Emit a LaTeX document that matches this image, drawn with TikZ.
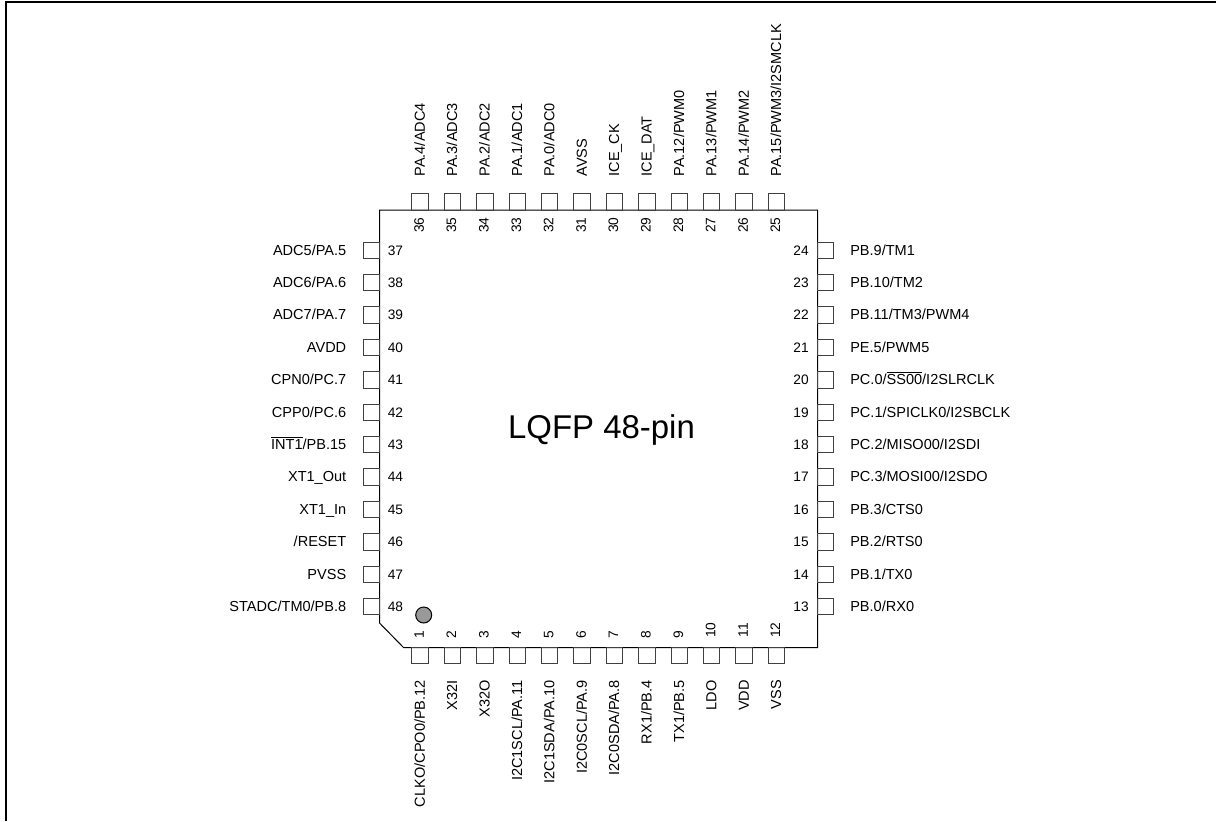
\documentclass[tikz,border=0pt]{standalone}
\usepackage{fontspec}
\setmainfont{Liberation Sans}
\usepackage{pgf,tikz}
\tikzset{
	pinbox/.style={draw=black!75,line width=0.75pt,minimum size=12.3pt,inner sep=0pt,outer sep=0pt},
	pintext/.style={font=\fontsize{10.9pt}{12pt}\selectfont,inner sep=0pt,text height=0.72em,text depth=0pt},
	numtext/.style={pintext,font=\fontsize{10.3pt}{12pt}\selectfont},
	chiptext/.style={font=\fontsize{24.7pt}{28pt}\selectfont,inner sep=0pt}
}
\begin{document}
\begin{tikzpicture}[x=7.5pt,y=7.5pt]
		\useasboundingbox (0,0) rectangle (121.6,-82.1);
		\draw [black,line width=1.5pt] (0.6,-82.1) -- (0.6,-0.2) -- (121.6,-0.2);
		% body of the package
		\draw [black,line width=0.75pt] (37.95,-21) -- (81.75,-21) -- (81.75,-64.75) -- (40.35,-64.75) -- (37.95,-62.3) -- cycle;
		\draw [black,line width=0.75pt,fill=black!40] (42.37,-61.5) circle (0.8);
		\node [chiptext] (title) at (60.15,-43) {LQFP 48-pin};
		% bottom side
		\node [pinbox] (pin1) at (42,-65.57) {};
		\node [numtext,rotate=90] (num1) at (41.9,-63.5) {1};
		\node [pintext,rotate=90,anchor=east] (lbl1) at (42,-68) {CLKO/CPO0/PB.12};
		\node [pinbox] (pin2) at (45.24,-65.57) {};
		\node [numtext,rotate=90] (num2) at (45.14,-63.5) {2};
		\node [pintext,rotate=90,anchor=east] (lbl2) at (45.24,-68) {X32I};
		\node [pinbox] (pin3) at (48.48,-65.57) {};
		\node [numtext,rotate=90] (num3) at (48.38,-63.5) {3};
		\node [pintext,rotate=90,anchor=east] (lbl3) at (48.48,-68) {X32O};
		\node [pinbox] (pin4) at (51.72,-65.57) {};
		\node [numtext,rotate=90] (num4) at (51.62,-63.5) {4};
		\node [pintext,rotate=90,anchor=east] (lbl4) at (51.72,-68) {I2C1SCL/PA.11};
		\node [pinbox] (pin5) at (54.96,-65.57) {};
		\node [numtext,rotate=90] (num5) at (54.86,-63.5) {5};
		\node [pintext,rotate=90,anchor=east] (lbl5) at (54.96,-68) {I2C1SDA/PA.10};
		\node [pinbox] (pin6) at (58.2,-65.57) {};
		\node [numtext,rotate=90] (num6) at (58.1,-63.5) {6};
		\node [pintext,rotate=90,anchor=east] (lbl6) at (58.2,-68) {I2C0SCL/PA.9};
		\node [pinbox] (pin7) at (61.44,-65.57) {};
		\node [numtext,rotate=90] (num7) at (61.34,-63.5) {7};
		\node [pintext,rotate=90,anchor=east] (lbl7) at (61.44,-68) {I2C0SDA/PA.8};
		\node [pinbox] (pin8) at (64.68,-65.57) {};
		\node [numtext,rotate=90] (num8) at (64.58,-63.5) {8};
		\node [pintext,rotate=90,anchor=east] (lbl8) at (64.68,-68) {RX1/PB.4};
		\node [pinbox] (pin9) at (67.92,-65.57) {};
		\node [numtext,rotate=90] (num9) at (67.82,-63.5) {9};
		\node [pintext,rotate=90,anchor=east] (lbl9) at (67.92,-68) {TX1/PB.5};
		\node [pinbox] (pin10) at (71.16,-65.57) {};
		\node [numtext,rotate=90] (num10) at (71.06,-63) {10};
		\node [pintext,rotate=90,anchor=east] (lbl10) at (71.16,-68) {LDO};
		\node [pinbox] (pin11) at (74.4,-65.57) {};
		\node [numtext,rotate=90] (num11) at (74.3,-63) {11};
		\node [pintext,rotate=90,anchor=east] (lbl11) at (74.4,-68) {VDD};
		\node [pinbox] (pin12) at (77.64,-65.57) {};
		\node [numtext,rotate=90] (num12) at (77.54,-63) {12};
		\node [pintext,rotate=90,anchor=east] (lbl12) at (77.64,-68) {VSS};
		% right side
		\node [pinbox] (pin13) at (82.57,-60.67) {};
		\node [numtext,anchor=east] (num13) at (80.9,-60.67) {13};
		\node [pintext,anchor=west] (lbl13) at (85,-60.67) {PB.0/RX0};
		\node [pinbox] (pin14) at (82.57,-57.43) {};
		\node [numtext,anchor=east] (num14) at (80.9,-57.43) {14};
		\node [pintext,anchor=west] (lbl14) at (85,-57.43) {PB.1/TX0};
		\node [pinbox] (pin15) at (82.57,-54.19) {};
		\node [numtext,anchor=east] (num15) at (80.9,-54.19) {15};
		\node [pintext,anchor=west] (lbl15) at (85,-54.19) {PB.2/RTS0};
		\node [pinbox] (pin16) at (82.57,-50.95) {};
		\node [numtext,anchor=east] (num16) at (80.9,-50.95) {16};
		\node [pintext,anchor=west] (lbl16) at (85,-50.95) {PB.3/CTS0};
		\node [pinbox] (pin17) at (82.57,-47.71) {};
		\node [numtext,anchor=east] (num17) at (80.9,-47.71) {17};
		\node [pintext,anchor=west] (lbl17) at (85,-47.71) {PC.3/MOSI00/I2SDO};
		\node [pinbox] (pin18) at (82.57,-44.47) {};
		\node [numtext,anchor=east] (num18) at (80.9,-44.47) {18};
		\node [pintext,anchor=west] (lbl18) at (85,-44.47) {PC.2/MISO00/I2SDI};
		\node [pinbox] (pin19) at (82.57,-41.23) {};
		\node [numtext,anchor=east] (num19) at (80.9,-41.23) {19};
		\node [pintext,anchor=west] (lbl19) at (85,-41.23) {PC.1/SPICLK0/I2SBCLK};
		\node [pinbox] (pin20) at (82.57,-37.99) {};
		\node [numtext,anchor=east] (num20) at (80.9,-37.99) {20};
		\node [pintext,anchor=west] (lbl20) at (85,-37.99) {PC.0/$\overline{\mbox{SS00}}$/I2SLRCLK};
		\node [pinbox] (pin21) at (82.57,-34.75) {};
		\node [numtext,anchor=east] (num21) at (80.9,-34.75) {21};
		\node [pintext,anchor=west] (lbl21) at (85,-34.75) {PE.5/PWM5};
		\node [pinbox] (pin22) at (82.57,-31.51) {};
		\node [numtext,anchor=east] (num22) at (80.9,-31.51) {22};
		\node [pintext,anchor=west] (lbl22) at (85,-31.51) {PB.11/TM3/PWM4};
		\node [pinbox] (pin23) at (82.57,-28.27) {};
		\node [numtext,anchor=east] (num23) at (80.9,-28.27) {23};
		\node [pintext,anchor=west] (lbl23) at (85,-28.27) {PB.10/TM2};
		\node [pinbox] (pin24) at (82.57,-25.03) {};
		\node [numtext,anchor=east] (num24) at (80.9,-25.03) {24};
		\node [pintext,anchor=west] (lbl24) at (85,-25.03) {PB.9/TM1};
		% top side
		\node [pinbox] (pin25) at (77.64,-20.18) {};
		\node [numtext,rotate=90] (num25) at (77.54,-22.5) {25};
		\node [pintext,rotate=90,anchor=west] (lbl25) at (77.64,-17.67) {PA.15/PWM3/I2SMCLK};
		\node [pinbox] (pin26) at (74.4,-20.18) {};
		\node [numtext,rotate=90] (num26) at (74.3,-22.5) {26};
		\node [pintext,rotate=90,anchor=west] (lbl26) at (74.4,-17.67) {PA.14/PWM2};
		\node [pinbox] (pin27) at (71.16,-20.18) {};
		\node [numtext,rotate=90] (num27) at (71.06,-22.5) {27};
		\node [pintext,rotate=90,anchor=west] (lbl27) at (71.16,-17.67) {PA.13/PWM1};
		\node [pinbox] (pin28) at (67.92,-20.18) {};
		\node [numtext,rotate=90] (num28) at (67.82,-22.5) {28};
		\node [pintext,rotate=90,anchor=west] (lbl28) at (67.92,-17.67) {PA.12/PWM0};
		\node [pinbox] (pin29) at (64.68,-20.18) {};
		\node [numtext,rotate=90] (num29) at (64.58,-22.5) {29};
		\node [pintext,rotate=90,anchor=west] (lbl29) at (64.68,-17.67) {ICE\_DAT};
		\node [pinbox] (pin30) at (61.44,-20.18) {};
		\node [numtext,rotate=90] (num30) at (61.34,-22.5) {30};
		\node [pintext,rotate=90,anchor=west] (lbl30) at (61.44,-17.67) {ICE\_CK};
		\node [pinbox] (pin31) at (58.2,-20.18) {};
		\node [numtext,rotate=90] (num31) at (58.1,-22.5) {31};
		\node [pintext,rotate=90,anchor=west] (lbl31) at (58.2,-17.67) {AVSS};
		\node [pinbox] (pin32) at (54.96,-20.18) {};
		\node [numtext,rotate=90] (num32) at (54.86,-22.5) {32};
		\node [pintext,rotate=90,anchor=west] (lbl32) at (54.96,-17.67) {PA.0/ADC0};
		\node [pinbox] (pin33) at (51.72,-20.18) {};
		\node [numtext,rotate=90] (num33) at (51.62,-22.5) {33};
		\node [pintext,rotate=90,anchor=west] (lbl33) at (51.72,-17.67) {PA.1/ADC1};
		\node [pinbox] (pin34) at (48.48,-20.18) {};
		\node [numtext,rotate=90] (num34) at (48.38,-22.5) {34};
		\node [pintext,rotate=90,anchor=west] (lbl34) at (48.48,-17.67) {PA.2/ADC2};
		\node [pinbox] (pin35) at (45.24,-20.18) {};
		\node [numtext,rotate=90] (num35) at (45.14,-22.5) {35};
		\node [pintext,rotate=90,anchor=west] (lbl35) at (45.24,-17.67) {PA.3/ADC3};
		\node [pinbox] (pin36) at (42,-20.18) {};
		\node [numtext,rotate=90] (num36) at (41.9,-22.5) {36};
		\node [pintext,rotate=90,anchor=west] (lbl36) at (42,-17.67) {PA.4/ADC4};
		% left side
		\node [pinbox] (pin37) at (37.13,-25.03) {};
		\node [numtext,anchor=west] (num37) at (38.75,-25.03) {37};
		\node [pintext,anchor=east] (lbl37) at (34.65,-25.03) {ADC5/PA.5};
		\node [pinbox] (pin38) at (37.13,-28.27) {};
		\node [numtext,anchor=west] (num38) at (38.75,-28.27) {38};
		\node [pintext,anchor=east] (lbl38) at (34.65,-28.27) {ADC6/PA.6};
		\node [pinbox] (pin39) at (37.13,-31.51) {};
		\node [numtext,anchor=west] (num39) at (38.75,-31.51) {39};
		\node [pintext,anchor=east] (lbl39) at (34.65,-31.51) {ADC7/PA.7};
		\node [pinbox] (pin40) at (37.13,-34.75) {};
		\node [numtext,anchor=west] (num40) at (38.75,-34.75) {40};
		\node [pintext,anchor=east] (lbl40) at (34.65,-34.75) {AVDD};
		\node [pinbox] (pin41) at (37.13,-37.99) {};
		\node [numtext,anchor=west] (num41) at (38.75,-37.99) {41};
		\node [pintext,anchor=east] (lbl41) at (34.65,-37.99) {CPN0/PC.7};
		\node [pinbox] (pin42) at (37.13,-41.23) {};
		\node [numtext,anchor=west] (num42) at (38.75,-41.23) {42};
		\node [pintext,anchor=east] (lbl42) at (34.65,-41.23) {CPP0/PC.6};
		\node [pinbox] (pin43) at (37.13,-44.47) {};
		\node [numtext,anchor=west] (num43) at (38.75,-44.47) {43};
		\node [pintext,anchor=east] (lbl43) at (34.65,-44.47) {$\overline{\mbox{INT1}}$/PB.15};
		\node [pinbox] (pin44) at (37.13,-47.71) {};
		\node [numtext,anchor=west] (num44) at (38.75,-47.71) {44};
		\node [pintext,anchor=east] (lbl44) at (34.65,-47.71) {XT1\_Out};
		\node [pinbox] (pin45) at (37.13,-50.95) {};
		\node [numtext,anchor=west] (num45) at (38.75,-50.95) {45};
		\node [pintext,anchor=east] (lbl45) at (34.65,-50.95) {XT1\_In};
		\node [pinbox] (pin46) at (37.13,-54.19) {};
		\node [numtext,anchor=west] (num46) at (38.75,-54.19) {46};
		\node [pintext,anchor=east] (lbl46) at (34.65,-54.19) {/RESET};
		\node [pinbox] (pin47) at (37.13,-57.43) {};
		\node [numtext,anchor=west] (num47) at (38.75,-57.43) {47};
		\node [pintext,anchor=east] (lbl47) at (34.65,-57.43) {PVSS};
		\node [pinbox] (pin48) at (37.13,-60.67) {};
		\node [numtext,anchor=west] (num48) at (38.75,-60.67) {48};
		\node [pintext,anchor=east] (lbl48) at (34.65,-60.67) {STADC/TM0/PB.8};
		\end{tikzpicture}
\end{document}
